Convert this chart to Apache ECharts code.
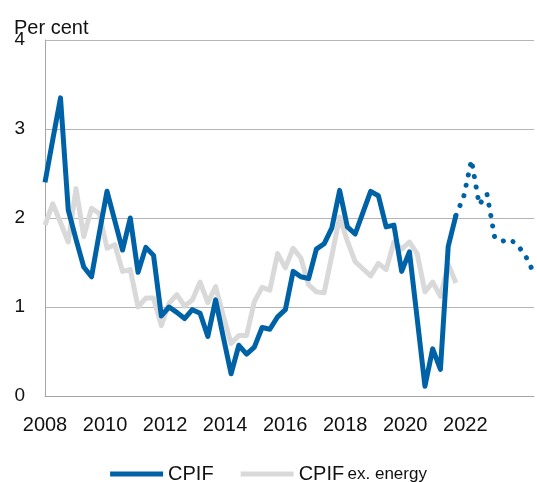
<!DOCTYPE html>
<html>
<head>
<meta charset="utf-8">
<script src="https://cdn.jsdelivr.net/npm/echarts@6/dist/echarts.min.js"></script>
<style>
  html, body { margin: 0; padding: 0; background: #fff; }
  #main { width: 537px; height: 482px; }
</style>
</head>
<body>
<div id="main"></div>
<script>
// observations start in 2008, roughly one per quarter
var startYear = 2008;
var step = 0.2583;

// CPIF, outcome
var cpif = [2.40, 2.88, 3.35, 2.09, 1.76, 1.45, 1.34, 1.83, 2.30, 1.97,
            1.64, 2.00, 1.39, 1.67, 1.58, 0.90, 1.00, 0.94, 0.87, 0.97,
            0.93, 0.67, 1.08, 0.66, 0.25, 0.57, 0.47, 0.55, 0.77, 0.75,
            0.89, 0.97, 1.40, 1.34, 1.32, 1.65, 1.71, 1.89, 2.31, 1.90,
            1.82, 2.06, 2.30, 2.25, 1.90, 1.92, 1.40, 1.62, 0.87, 0.11,
            0.53, 0.30, 1.68, 2.03];
// CPIF, forecast (first value = last outcome)
var cpifForecast = [2.03, 2.24, 2.65, 2.15, 2.27, 1.78, 1.74, 1.76, 1.69, 1.57, 1.39];
// CPIF ex. energy, outcome
var cpifExEnergy = [1.92, 2.16, 1.95, 1.73, 2.33, 1.79, 2.11, 2.05, 1.66, 1.70,
                    1.40, 1.42, 1.00, 1.10, 1.10, 0.79, 1.04, 1.14, 1.01, 1.08,
                    1.28, 1.05, 1.23, 0.90, 0.59, 0.68, 0.68, 1.06, 1.22, 1.19,
                    1.60, 1.44, 1.66, 1.55, 1.25, 1.17, 1.16, 1.58, 2.01, 1.74,
                    1.51, 1.43, 1.35, 1.49, 1.42, 1.73, 1.65, 1.73, 1.60, 1.17,
                    1.28, 1.12, 1.48, 1.27];

var yearLabels = [2008, 2010, 2012, 2014, 2016, 2018, 2020, 2022];

function pairs(values, offset) {
    return values.map(function (v, i) { return [startYear + (offset + i) * step, v]; });
}

var blue = '#0062a6';
var grey = '#d9d9d9';
var font = '"Liberation Sans", Arial, Helvetica, sans-serif';

var myChart = echarts.init(document.getElementById('main'));
myChart.setOption({
    animation: false,
    textStyle: { fontFamily: font },
    title: {
        text: 'Per cent',
        left: 9,
        top: 13,
        textStyle: { fontSize: 20, fontWeight: 'normal', color: '#111', fontFamily: font }
    },
    grid: { left: 45, right: 0, top: 40, bottom: 86 },
    xAxis: {
        type: 'value',
        min: 2008,
        max: 2024.29,
        interval: 2,
        axisLine: { show: true, onZero: false, lineStyle: { color: '#a6a6a6', width: 1 } },
        axisTick: { show: false },
        splitLine: { show: false },
        axisLabel: {
            fontSize: 20,
            color: '#111',
            margin: 19,
            formatter: function (v) { return yearLabels.indexOf(v) >= 0 ? String(v) : ''; }
        }
    },
    yAxis: {
        type: 'value',
        min: 0,
        max: 4,
        interval: 1,
        axisLine: { show: true, lineStyle: { color: '#a6a6a6', width: 1 } },
        axisTick: { show: false },
        splitLine: { lineStyle: { color: '#b5b5b5', width: 1 } },
        axisLabel: { fontSize: 19, color: '#111', margin: 20 }
    },
    legend: {
        data: ['CPIF', 'CPIF ex. energy'],
        bottom: -7,
        left: 'center',
        icon: 'rect',
        itemWidth: 53,
        itemHeight: 5,
        itemGap: 27,
        formatter: function (name) {
            return name === 'CPIF ex. energy' ? '{a|CPIF} {b|ex. energy}' : '{a|' + name + '}';
        },
        textStyle: {
            color: '#111',
            rich: {
                a: { fontSize: 20, fontFamily: font, color: '#111' },
                b: { fontSize: 17, fontFamily: font, color: '#111' }
            }
        }
    },
    series: [
        {
            name: 'CPIF ex. energy',
            type: 'line',
            data: pairs(cpifExEnergy, 0),
            showSymbol: false,
            color: grey,
            lineStyle: { color: grey, width: 5, join: 'round' }
        },
        {
            name: 'CPIF',
            type: 'line',
            data: pairs(cpif, 0),
            showSymbol: false,
            color: blue,
            lineStyle: { color: blue, width: 5, join: 'round' }
        },
        {
            name: 'CPIF forecast',
            type: 'line',
            data: pairs(cpifForecast, cpif.length - 1),
            showSymbol: false,
            color: blue,
            lineStyle: { color: blue, width: 5, type: [0.1, 10.5], cap: 'round', join: 'round' }
        }
    ]
});
</script>
</body>
</html>
